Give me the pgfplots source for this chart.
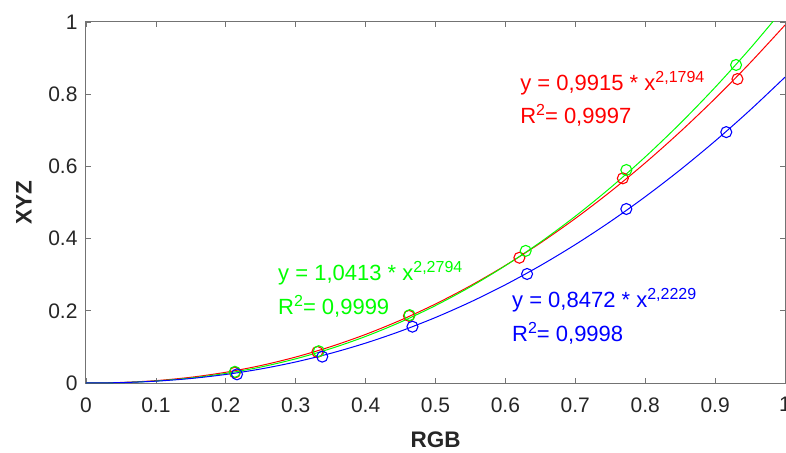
\documentclass[border=0pt]{standalone}
\usepackage{fontspec}
\setmainfont{Liberation Sans}
\usepackage{pgfplots}
\pgfplotsset{compat=1.18}

\definecolor{fitgreen}{rgb}{0,1,0}
\definecolor{fitred}{rgb}{1,0,0}
\definecolor{fitblue}{rgb}{0,0,1}
\definecolor{axgray}{rgb}{0.45,0.45,0.45}
\definecolor{labgray}{rgb}{0.15,0.15,0.15}

\newcommand{\sq}[1]{\raisebox{8pt}{\fontsize{16}{19}\selectfont #1}}

\begin{document}
\begin{tikzpicture}
\begin{axis}[
  name=ax,
  scale only axis,
  width=699pt, height=361pt,
  xmin=0, xmax=1, ymin=0, ymax=1,
  xtick={0,0.1,...,1}, ytick={0,0.2,...,1},
  /pgf/number format/assume math mode=true,
  xticklabel style={font=\fontsize{21}{25}\selectfont, text=labgray, yshift=-11pt},
  yticklabel style={font=\fontsize{21}{25}\selectfont, text=labgray, xshift=-5pt},
  major tick length=5pt,
  tick style={axgray, line width=0.8pt},
  axis line style={axgray, line width=1pt},
  xlabel={\textbf{RGB}}, ylabel={\textbf{XYZ}},
  xlabel style={font=\fontsize{22.5}{27}\selectfont, text=labgray, at={(axis description cs:0.5,-0.158)}, anchor=center},
  ylabel style={font=\fontsize{22.5}{27}\selectfont, text=labgray, at={(axis description cs:-0.089,0.5)}, anchor=center},
  clip=true,
]
% fitted power curves y = a x^b, tabulated
\addplot[fitred, line width=1pt, smooth] coordinates {
(0,0) (0.05,0.001448) (0.1,0.006560) (0.15,0.015873) (0.2,0.029714) (0.25,0.048324)
(0.3,0.071900) (0.35,0.100609) (0.4,0.134593) (0.45,0.173981) (0.5,0.218891)
(0.55,0.269424) (0.6,0.325684) (0.65,0.387754) (0.7,0.455719) (0.75,0.529658)
(0.8,0.609655) (0.85,0.695777) (0.9,0.788078) (0.95,0.886630) (1,0.991500)};
\addplot[fitgreen, line width=1pt, smooth] coordinates {
(0,0) (0.05,0.001127) (0.1,0.005472) (0.15,0.013790) (0.2,0.026567) (0.25,0.044182)
(0.3,0.066946) (0.35,0.095132) (0.4,0.128976) (0.45,0.168698) (0.5,0.214491)
(0.55,0.266538) (0.6,0.325006) (0.65,0.390059) (0.7,0.461839) (0.75,0.540497)
(0.8,0.626152) (0.85,0.718935) (0.9,0.818985) (0.95,0.926400) (1,1.041300)};
\addplot[fitblue, line width=1pt, smooth] coordinates {
(0,0) (0.05,0.001086) (0.1,0.005071) (0.15,0.012489) (0.2,0.023672) (0.25,0.038875)
(0.3,0.058302) (0.35,0.082129) (0.4,0.110511) (0.45,0.143586) (0.5,0.181478)
(0.55,0.224304) (0.6,0.272170) (0.65,0.325168) (0.7,0.383404) (0.75,0.446948)
(0.8,0.515897) (0.85,0.590325) (0.9,0.670300) (0.95,0.755900) (1,0.847200)};
% measured samples
\addplot[only marks, mark=o, mark size=5.5pt, fitred, line width=1.1pt] coordinates {
(0.213,0.029) (0.331,0.086) (0.462,0.186) (0.620,0.347) (0.768,0.567) (0.932,0.842)};
\addplot[only marks, mark=o, mark size=5.5pt, fitgreen, line width=1.1pt] coordinates {
(0.213,0.031) (0.333,0.088) (0.463,0.188) (0.629,0.366) (0.773,0.590) (0.930,0.881)};
\addplot[only marks, mark=o, mark size=5.5pt, fitblue, line width=1.1pt] coordinates {
(0.216,0.024) (0.338,0.073) (0.467,0.156) (0.631,0.302) (0.773,0.482) (0.916,0.695)};
% fit annotations
\begin{scope}[every node/.style={anchor=base west, inner sep=0pt, font=\fontsize{22}{26}\selectfont}]
\node[text=fitred] at (axis cs:0.621,0.8116) {y = 0,9915 * x\sq{2,1794}};
\node[text=fitred] at (axis cs:0.621,0.720) {R\sq{2}= 0,9997};
\node[text=fitgreen] at (axis cs:0.2747,0.2853) {y = 1,0413 * x\sq{2,2794}};
\node[text=fitgreen] at (axis cs:0.2747,0.1884) {R\sq{2}= 0,9999};
\node[text=fitblue] at (axis cs:0.6094,0.2078) {y = 0,8472 * x\sq{2,2229}};
\node[text=fitblue] at (axis cs:0.6094,0.1136) {R\sq{2}= 0,9998};
\end{scope}
\end{axis}
\pgfresetboundingbox
\path[use as bounding box] ([xshift=-86pt,yshift=-69pt]ax.south west) rectangle ([xshift=1pt,yshift=22pt]ax.north east);
\end{tikzpicture}
\end{document}
